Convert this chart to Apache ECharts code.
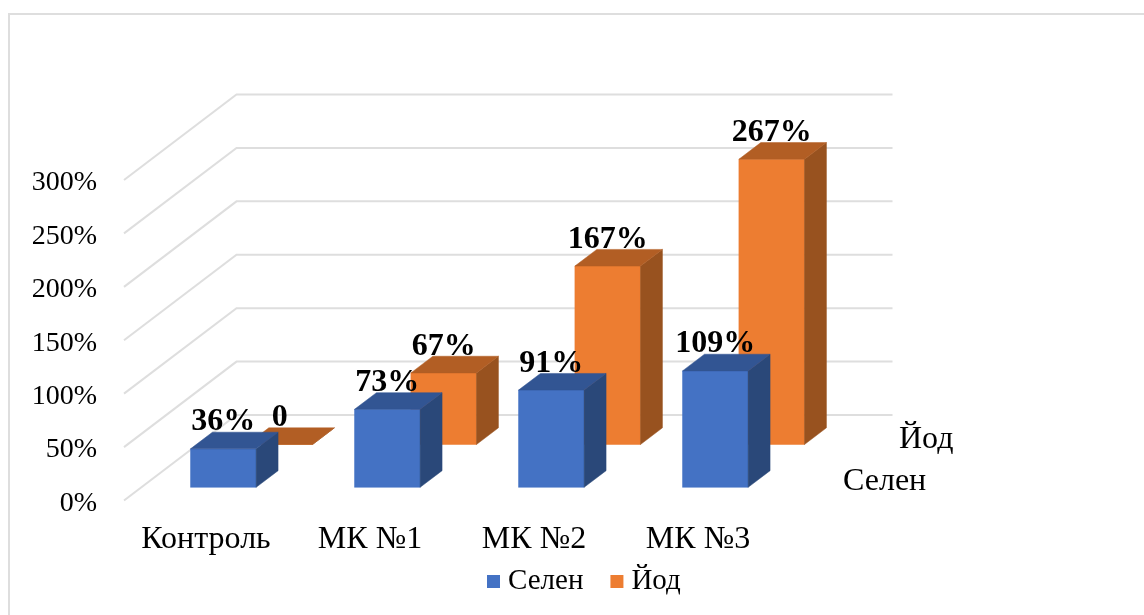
<!DOCTYPE html>
<html>
<head>
<meta charset="utf-8">
<style>
  html, body { margin: 0; padding: 0; background: #fff; }
  #chart { width: 1144px; height: 615px; }
</style>
<script src="https://cdn.jsdelivr.net/npm/echarts@6/dist/echarts.min.js"></script>
</head>
<body>
<div id="chart"></div>
<script>
// Values in percent, one entry per group
const categories = ['Контроль', 'МК №1', 'МК №2', 'МК №3'];
const selenValues = [36, 73, 91, 109];
const iodValues = [0, 67, 167, 267];
const iodLabels = ['0', '67%', '167%', '267%'];
const selenLabels = ['36%', '73%', '91%', '109%'];
const axisTicks = [0, 50, 100, 150, 200, 250, 300];

const FONT = '"Liberation Serif", "Times New Roman", serif';

// Oblique projection: full scene depth shifts a point right and up by these amounts
const DEPTH_DX = 112.5;
const DEPTH_DY = 85.5;
const project = (p, d) => [p[0] + DEPTH_DX * d, p[1] - DEPTH_DY * d];

const poly = (points, fill) => ({
  type: 'polygon',
  shape: { points },
  style: { fill, stroke: fill, lineWidth: 0.5 }
});

// A box standing in the depth slot [d0, d1] with its own value label on top
function boxRenderer(d0, d1, labels, colors) {
  return function (params, api) {
    const i = api.value(0);
    const top = api.coord([i, api.value(1)]);
    const base = api.coord([i, 0]);
    const half = api.size([1, 0])[0] * 0.2;
    const corner = (sx, y, d) => project([top[0] + sx * half, y], d);

    const fl = corner(-1, top[1], d0), fr = corner(1, top[1], d0);
    const bl = corner(-1, top[1], d1), br = corner(1, top[1], d1);
    const gl = corner(-1, base[1], d0), gr = corner(1, base[1], d0);
    const gb = corner(1, base[1], d1);

    return {
      type: 'group',
      children: [
        poly([gl, gr, fr, fl], colors.front),
        poly([gr, gb, br, fr], colors.side),
        poly([fl, fr, br, bl], colors.top),
        {
          type: 'text',
          z2: 10,
          style: {
            text: labels[i],
            x: (fl[0] + fr[0]) / 2,
            y: bl[1] - 10,
            font: 'bold 32px ' + FONT,
            fill: '#000',
            textAlign: 'center',
            textVerticalAlign: 'middle'
          }
        }
      ]
    };
  };
}

// Side-wall and back-wall line for one value tick
function gridLineRenderer(params, api) {
  const sys = params.coordSys;
  const y = api.coord([0, api.value(0)])[1];
  const a = [sys.x, y];
  const b = project(a, 1);
  const c = [sys.x + sys.width + DEPTH_DX, b[1]];
  return {
    type: 'polyline',
    shape: { points: [a, b, c] },
    style: { fill: null, stroke: '#dedede', lineWidth: 2 }
  };
}

const chart = echarts.init(document.getElementById('chart'), null, { renderer: 'canvas' });

chart.setOption({
  animation: false,
  backgroundColor: '#fff',
  grid: { left: 124, right: 364, top: 180, bottom: 114.5, containLabel: false },
  xAxis: {
    type: 'category',
    data: categories,
    axisLine: { show: false },
    axisTick: { show: false },
    axisLabel: { fontFamily: FONT, fontSize: 32, color: '#000', margin: 23, interval: 0, hideOverlap: false }
  },
  yAxis: {
    type: 'value',
    min: 0,
    max: 300,
    interval: 50,
    splitLine: { show: false },
    axisLine: { show: false },
    axisTick: { show: false },
    axisLabel: {
      color: '#000',
      margin: 27,
      formatter: '{t|{value}%}',
      rich: {
        t: { fontFamily: FONT, fontSize: 28, color: '#000', padding: [6, 0, 0, 0] }
      }
    }
  },
  legend: {
    data: ['Селен', 'Йод'],
    left: 482,
    top: 562,
    icon: 'rect',
    itemWidth: 13,
    itemHeight: 13,
    itemGap: 27,
    textStyle: { fontFamily: FONT, fontSize: 29, color: '#000', padding: [0, 0, 0, 3] }
  },
  graphic: [
    // Card frame along the top and left edges
    {
      type: 'polyline',
      silent: true,
      shape: { points: [[9, 615], [9, 14], [1144, 14]] },
      style: { fill: null, stroke: '#dedede', lineWidth: 2 }
    },
    // Depth axis captions
    {
      type: 'text',
      silent: true,
      style: { text: 'Йод', x: 899, y: 440, font: '32px ' + FONT, fill: '#000', textVerticalAlign: 'middle' }
    },
    {
      type: 'text',
      silent: true,
      style: { text: 'Селен', x: 843, y: 482, font: '32px ' + FONT, fill: '#000', textVerticalAlign: 'middle' }
    }
  ],
  series: [
    {
      type: 'custom',
      silent: true,
      z: 1,
      legendHoverLink: false,
      coordinateSystem: 'cartesian2d',
      renderItem: gridLineRenderer,
      data: axisTicks.map(v => [v]),
      encode: { y: 0 }
    },
    {
      name: 'Йод',
      type: 'custom',
      z: 2,
      coordinateSystem: 'cartesian2d',
      itemStyle: { color: '#ED7D31' },
      renderItem: boxRenderer(0.655, 0.85, iodLabels, { front: '#ED7D31', top: '#B25E24', side: '#98521F' }),
      data: iodValues.map((v, i) => [i, v]),
      encode: { x: 0, y: 1 }
    },
    {
      name: 'Селен',
      type: 'custom',
      z: 3,
      coordinateSystem: 'cartesian2d',
      itemStyle: { color: '#4472C4' },
      renderItem: boxRenderer(0.154, 0.349, selenLabels, { front: '#4472C4', top: '#325593', side: '#2A4879' }),
      data: selenValues.map((v, i) => [i, v]),
      encode: { x: 0, y: 1 }
    }
  ]
});
</script>
</body>
</html>
